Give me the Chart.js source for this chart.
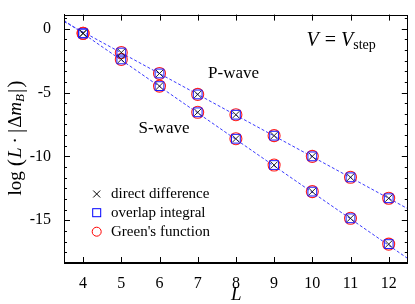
<!DOCTYPE html>
<html lang="en">
<head>
  <meta charset="UTF-8">
  <title>V = V_step</title>
  <script src="https://cdn.jsdelivr.net/npm/chart.js"></script>
  <style>
    html, body { margin: 0; padding: 0; background: #ffffff; }
  </style>
</head>
<body>
  <canvas id="chart" width="415" height="304"></canvas>

<script>
  // values
  const L_values = [4, 5, 6, 7, 8, 9, 10, 11, 12];
  const pWave = [-0.37, -1.87, -3.51, -5.15, -6.74, -8.38, -10.0, -11.64, -13.28];
  const sWave = [-0.37, -2.41, -4.50, -6.55, -8.62, -10.68, -12.76, -14.85, -16.87];

  // dashed fit lines, ends at the plot edges
  const fitL = [3.5, 12.5];
  const pFit = [0.55, -14.1];
  const sFit = [0.65, -18.0];

  const xTicks = [4, 5, 6, 7, 8, 9, 10, 11, 12];
  const yTicks = [-15, -10, -5, 0];
  const legendLabels = ['direct difference', 'overlap integral', "Green's function"];

  const SERIF = '"Liberation Serif", "DejaVu Serif", serif';

  function pts(xs, ys) {
    return xs.map((x, i) => ({ x: x, y: ys[i] }));
  }
  var allPts = pts(L_values, pWave).concat(pts(L_values, sWave));

  // draw a line of text made of runs with their own font / offset
  function drawRuns(ctx, runs, x, y) {
    for (let r of runs) {
      if (r.gap) { x += r.gap; continue; }
      ctx.font = r.font;
      ctx.fillText(r.t, x, y + (r.dy || 0));
      x += ctx.measureText(r.t).width;
    }
  }
  function runsWidth(ctx, runs) {
    var w = 0;
    for (let r of runs) {
      if (r.gap) { w += r.gap; continue; }
      ctx.font = r.font;
      w += ctx.measureText(r.t).width;
    }
    return w;
  }

  function drawCross(ctx, x, y, h) {
    ctx.beginPath();
    ctx.moveTo(x - h, y - h); ctx.lineTo(x + h, y + h);
    ctx.moveTo(x - h, y + h); ctx.lineTo(x + h, y - h);
    ctx.stroke();
  }

  const framePlugin = {
    id: 'frame',
    afterDraw(chart) {
      const ctx = chart.ctx;
      const a = chart.chartArea;
      const xs = chart.scales.x, ys = chart.scales.y;
      ctx.save();
      ctx.strokeStyle = '#000';
      ctx.lineWidth = 1;
      ctx.strokeRect(Math.round(a.left) + 0.5, Math.round(a.top) + 0.5,
                     Math.round(a.right - a.left) - 1, Math.round(a.bottom - a.top) - 1);

      // inward ticks, bottom and top
      ctx.beginPath();
      for (let v of xTicks) {
        var px = Math.round(xs.getPixelForValue(v)) + 0.5;
        ctx.moveTo(px, a.bottom); ctx.lineTo(px, a.bottom - 6);
        ctx.moveTo(px, a.top); ctx.lineTo(px, a.top + 6);
      }
      // left and right, majors every 5, 5 minors between
      for (let k = -30; k <= 6; k++) {
        var v = k * 5 / 6;
        if (v < ys.min || v > ys.max) continue;
        var py = Math.round(ys.getPixelForValue(v)) + 0.5;
        var len = (k % 6 === 0) ? 6 : 3;
        ctx.moveTo(a.left, py); ctx.lineTo(a.left + len, py);
        ctx.moveTo(a.right, py); ctx.lineTo(a.right - len, py);
      }
      ctx.stroke();

      ctx.fillStyle = '#000';
      ctx.textBaseline = 'alphabetic';
      ctx.textAlign = 'left';

      // labels inside the plot
      ctx.font = '17px ' + SERIF;
      ctx.fillText('P-wave', xs.getPixelForValue(7.27), ys.getPixelForValue(-3.89));
      ctx.fillText('S-wave', xs.getPixelForValue(5.45), ys.getPixelForValue(-8.14));

      var vRuns = [
        { t: 'V', font: 'italic 20px ' + SERIF },
        { gap: 6 },
        { t: '=', font: '20px ' + SERIF },
        { gap: 5 },
        { t: 'V', font: 'italic 20px ' + SERIF },
        { t: 'step', font: '14px ' + SERIF, dy: 3 }
      ];
      drawRuns(ctx, vRuns, xs.getPixelForValue(9.85), ys.getPixelForValue(-1.36));

      // legend
      var lx = 96.7, ly = [194, 212.7, 231.7];
      ctx.lineWidth = 1;
      ctx.strokeStyle = '#000';
      drawCross(ctx, lx, ly[0], 3.5);
      ctx.strokeStyle = '#0000ff';
      ctx.strokeRect(lx - 4, ly[1] - 4, 8, 8);
      ctx.strokeStyle = '#ff0000';
      ctx.beginPath(); ctx.arc(lx, ly[2], 4.5, 0, Math.PI * 2); ctx.stroke();
      ctx.font = '15px ' + SERIF;
      for (let i = 0; i < legendLabels.length; i++) {
        ctx.fillText(legendLabels[i], 111, ly[i] + 4);
      }

      // x title
      ctx.font = 'italic 19px ' + SERIF;
      ctx.textAlign = 'center';
      ctx.fillText('L', (a.left + a.right) / 2 + 0.5, 300);
      ctx.textAlign = 'left';

      // y title, rotated
      var yRuns = [
        { t: 'log', font: '19px ' + SERIF },
        { gap: 5 },
        { t: '(', font: '22px ' + SERIF, dy: 1 },
        { gap: 1 },
        { t: 'L', font: 'italic 19px ' + SERIF },
        { gap: 4 },
        { t: '·', font: '19px ' + SERIF },
        { gap: 4 },
        { t: '|', font: '21px ' + SERIF, dy: 1 },
        { gap: 1 },
        { t: 'Δ', font: '19px ' + SERIF },
        { t: 'm', font: 'italic 19px ' + SERIF },
        { t: 'B', font: 'italic 13px ' + SERIF, dy: 3 },
        { gap: 1 },
        { t: '|', font: '21px ' + SERIF, dy: 1 },
        { gap: 1 },
        { t: ')', font: '22px ' + SERIF, dy: 1 }
      ];
      var w = runsWidth(ctx, yRuns);
      ctx.translate(21, 138);
      ctx.rotate(-Math.PI / 2);
      drawRuns(ctx, yRuns, -w / 2, 0);
      ctx.restore();
    }
  };

  new Chart(document.getElementById('chart'), {
    type: 'scatter',
    data: {
      datasets: [
        {
          label: 'direct difference',
          data: allPts,
          pointStyle: 'crossRot',
          pointRadius: 5,
          borderColor: '#111111',
          borderWidth: 0.9,
          order: 0
        },
        {
          label: 'overlap integral',
          data: allPts,
          pointStyle: 'rect',
          pointRadius: 6.2,
          borderColor: '#1a1aff',
          backgroundColor: 'rgba(0,0,0,0)',
          borderWidth: 1,
          order: 1
        },
        {
          label: "Green's function",
          data: allPts,
          pointStyle: 'circle',
          pointRadius: 6,
          borderColor: '#ff2020',
          backgroundColor: 'rgba(0,0,0,0)',
          borderWidth: 1.1,
          order: 2
        },
        {
          label: 'P fit',
          data: pts(fitL, pFit),
          showLine: true,
          pointRadius: 0,
          borderColor: '#3a3aff',
          borderDash: [3, 2],
          borderWidth: 1,
          order: 3
        },
        {
          label: 'S fit',
          data: pts(fitL, sFit),
          showLine: true,
          pointRadius: 0,
          borderColor: '#3a3aff',
          borderDash: [3, 2],
          borderWidth: 1,
          order: 3
        }
      ]
    },
    options: {
      responsive: false,
      animation: false,
      devicePixelRatio: 1,
      layout: { padding: { top: 2, right: 1, left: 0, bottom: 0 } },
      plugins: {
        legend: { display: false },
        tooltip: { enabled: false }
      },
      scales: {
        x: {
          type: 'linear',
          min: 3.5,
          max: 12.5,
          afterBuildTicks: s => { s.ticks = xTicks.map(v => ({ value: v })); },
          afterFit: s => { s.height = 41; },
          grid: { display: false },
          border: { display: true, color: '#000', width: 1 },
          ticks: { color: '#000', padding: 3, maxRotation: 0, font: { family: SERIF, size: 16 } }
        },
        y: {
          type: 'linear',
          min: -18.35,
          max: 1.1,
          afterBuildTicks: s => { s.ticks = yTicks.map(v => ({ value: v })); },
          afterFit: s => { s.width = 64; },
          grid: { display: false },
          border: { display: true, color: '#000', width: 1 },
          ticks: { color: '#000', padding: 5, font: { family: SERIF, size: 16 } }
        }
      }
    },
    plugins: [framePlugin]
  });
</script>
</body>
</html>
